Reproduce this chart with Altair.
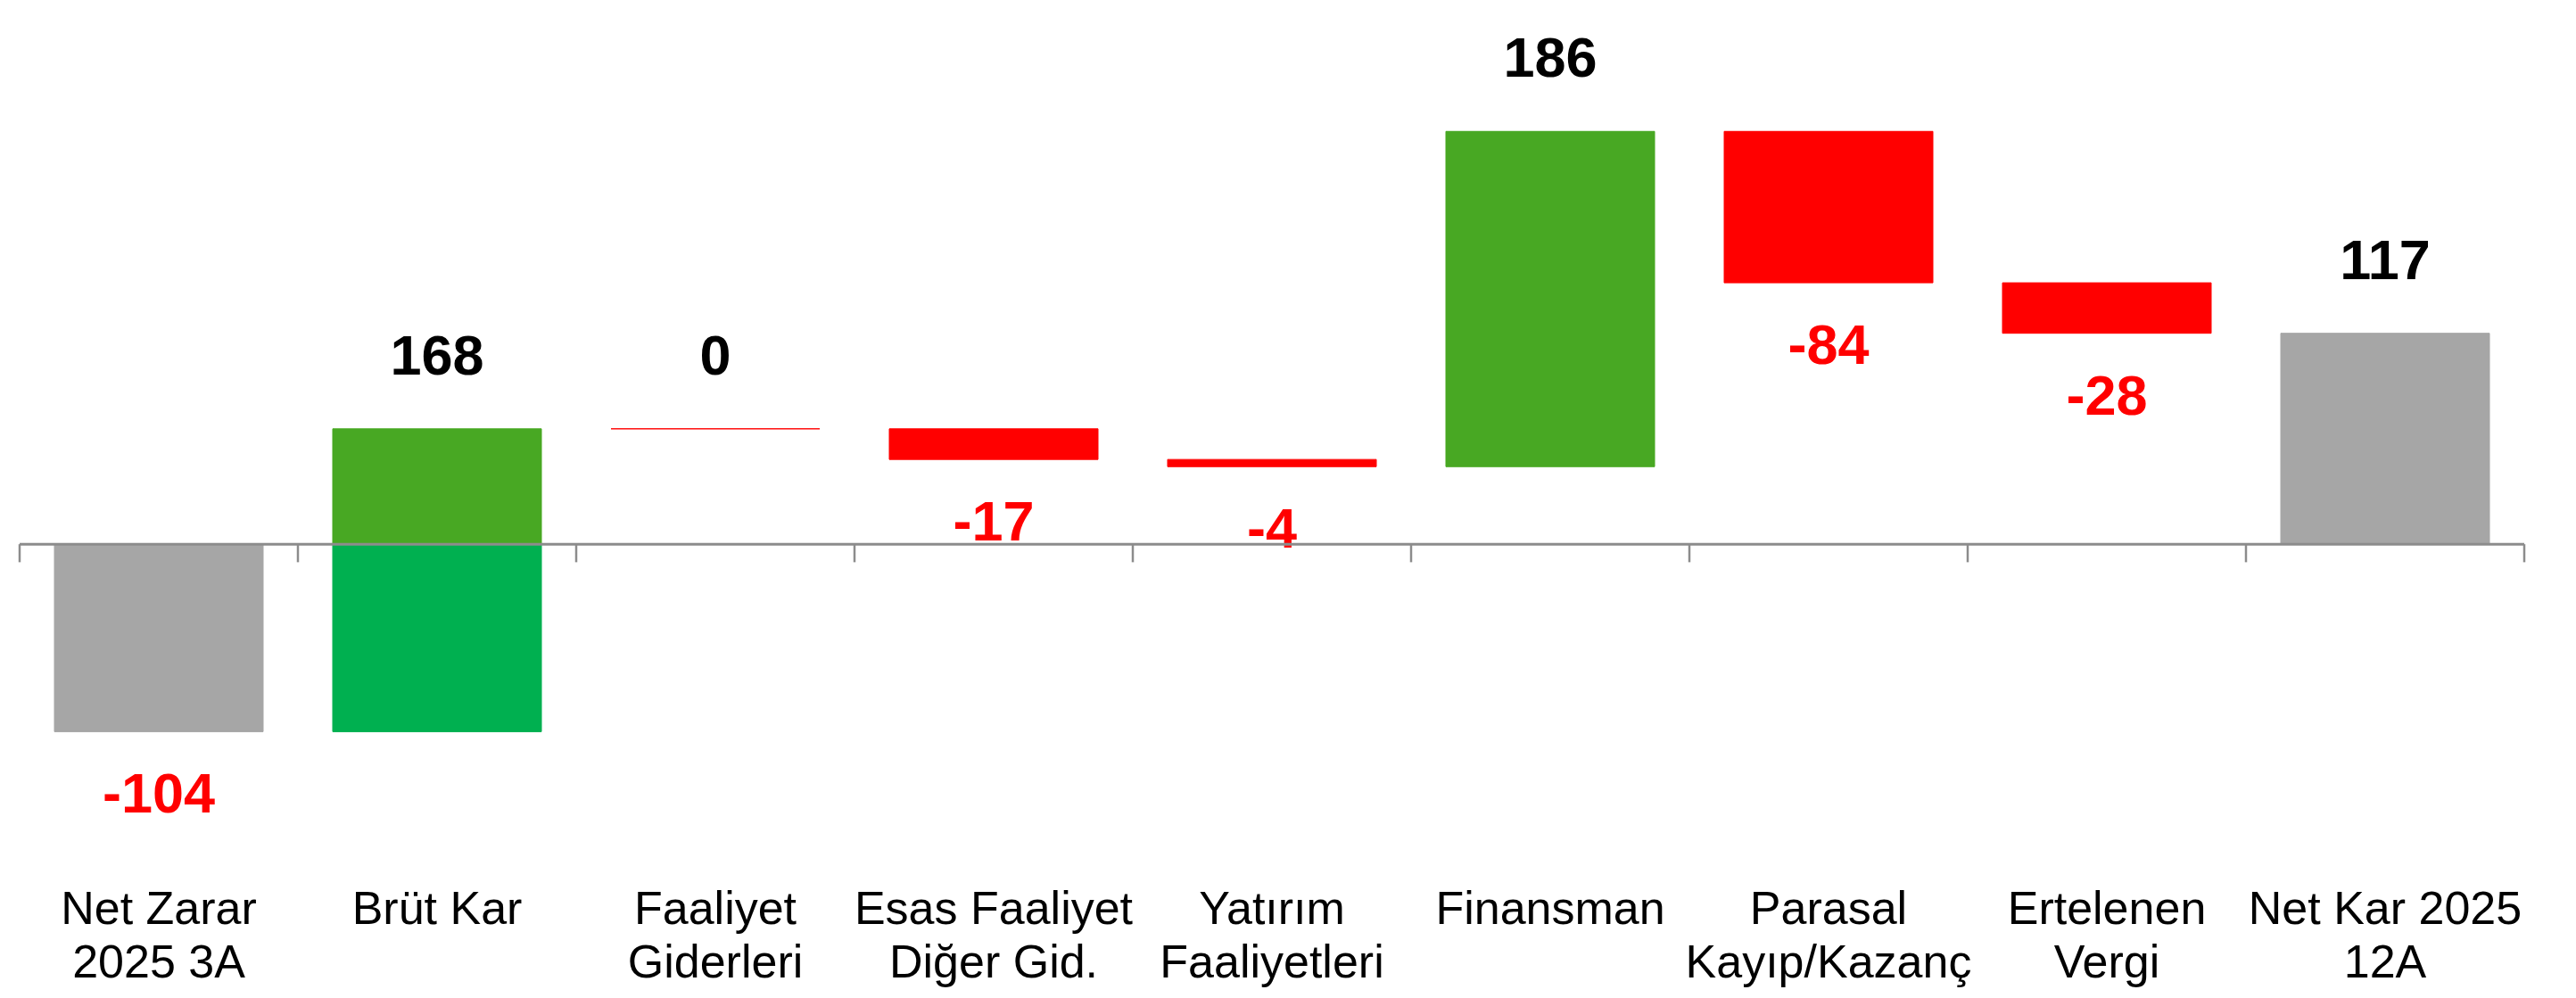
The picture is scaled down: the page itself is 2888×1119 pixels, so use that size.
import altair as alt
import pandas as pd

categories = [
    "Net Zarar\n2025 3A",
    "Brüt Kar",
    "Faaliyet\nGiderleri",
    "Esas Faaliyet\nDiğer Gid.",
    "Yatırım\nFaaliyetleri",
    "Finansman",
    "Parasal\nKayıp/Kazanç",
    "Ertelenen\nVergi",
    "Net Kar 2025\n12A",
]
values = [-104, 168, 0, -17, -4, 186, -84, -28, 117]
kinds = ["total", "delta", "delta", "delta", "delta", "delta", "delta", "delta", "total"]

# Build waterfall segments from the values
seg_rows = []
lab_rows = []
running = 0
for cat, v, k in zip(categories, values, kinds):
    if k == "total":
        start, end = 0, v
    else:
        start, end = running, running + v
    running = end
    lo, hi = min(start, end), max(start, end)
    if k == "total":
        seg_rows.append(dict(cat=cat, lo=lo, hi=hi, kind="Toplam"))
    elif v > 0:
        if lo < 0 < hi:
            seg_rows.append(dict(cat=cat, lo=lo, hi=0, kind="Artış (sıfır altı)"))
            seg_rows.append(dict(cat=cat, lo=0, hi=hi, kind="Artış"))
        elif hi <= 0:
            seg_rows.append(dict(cat=cat, lo=lo, hi=hi, kind="Artış (sıfır altı)"))
        else:
            seg_rows.append(dict(cat=cat, lo=lo, hi=hi, kind="Artış"))
    else:
        seg_rows.append(dict(cat=cat, lo=lo, hi=hi, kind="Azalış"))
    above = v >= 0
    lab_rows.append(dict(cat=cat, anchor=hi if above else lo, txt=str(v), above=above))

seg_df = pd.DataFrame(seg_rows)
lab_df = pd.DataFrame(lab_rows)
n = len(categories)
bounds_df = pd.DataFrame({"p": list(range(n + 1))})
line_df = pd.DataFrame({"p": [0], "p2": [n]})

kind_domain = ["Toplam", "Artış (sıfır altı)", "Artış", "Azalış"]
kind_range = ["#A6A6A6", "#00B050", "#48A823", "#FF0000"]

FONT = "Liberation Sans"

x_enc = alt.X(
    "cat:N",
    sort=categories,
    scale=alt.Scale(paddingInner=0.25, paddingOuter=0.125),
    axis=alt.Axis(
        title=None,
        labelAngle=0,
        domain=False,
        ticks=False,
        labelExpr="split(datum.label, '\\n')",
        labelFont=FONT,
        labelFontSize=52,
        labelColor="black",
        labelLineHeight=60,
        labelPadding=20,
        labelLimit=600,
    ),
)
y_scale = alt.Scale(domain=[-180, 290], nice=False, zero=False)

bars = alt.Chart(seg_df).mark_bar(strokeWidth=1).encode(
    x=x_enc,
    y=alt.Y("lo:Q", scale=y_scale, axis=None),
    y2="hi:Q",
    color=alt.Color("kind:N", scale=alt.Scale(domain=kind_domain, range=kind_range), legend=None),
    stroke=alt.Stroke("kind:N", scale=alt.Scale(domain=kind_domain, range=kind_range), legend=None),
)

pos_labels = alt.Chart(lab_df).transform_filter("datum.above").mark_text(
    dy=-80, fontSize=63, fontWeight="bold", font=FONT, color="black", baseline="middle"
).encode(
    x=x_enc,
    y=alt.Y("anchor:Q", scale=y_scale, axis=None),
    text="txt:N",
)
neg_labels = alt.Chart(lab_df).transform_filter("!datum.above").mark_text(
    dy=72, fontSize=63, fontWeight="bold", font=FONT, color="#FF0000", baseline="middle"
).encode(
    x=x_enc,
    y=alt.Y("anchor:Q", scale=y_scale, axis=None),
    text="txt:N",
)

qx = alt.Scale(domain=[0, n], nice=False, zero=False)
axis_line = alt.Chart(line_df).mark_rule(color="#8C8C8C", strokeWidth=3).encode(
    x=alt.X("p:Q", scale=qx, axis=None),
    x2="p2:Q",
    y=alt.Y("zero:Q", scale=y_scale, axis=None),
).transform_calculate(zero="0")
ticks = alt.Chart(bounds_df).mark_rule(color="#8C8C8C", strokeWidth=2.5).encode(
    x=alt.X("p:Q", scale=qx, axis=None),
    y=alt.Y("zero:Q", scale=y_scale, axis=None),
    y2="down:Q",
).transform_calculate(zero="0", down="-10")

main = alt.layer(bars, pos_labels, neg_labels)
zero_axis = alt.layer(axis_line, ticks)

chart = (
    alt.layer(main, zero_axis)
    .resolve_scale(x="independent")
    .properties(
        width=2808,
        height=950,
        padding={"left": 14, "top": 16, "right": 10, "bottom": 142},
        autosize=alt.AutoSizeParams(type="none"),
        background="white",
    )
    .configure_view(stroke=None)
)

chart.save("out.html", embed_options={"renderer": "svg", "actions": False})
